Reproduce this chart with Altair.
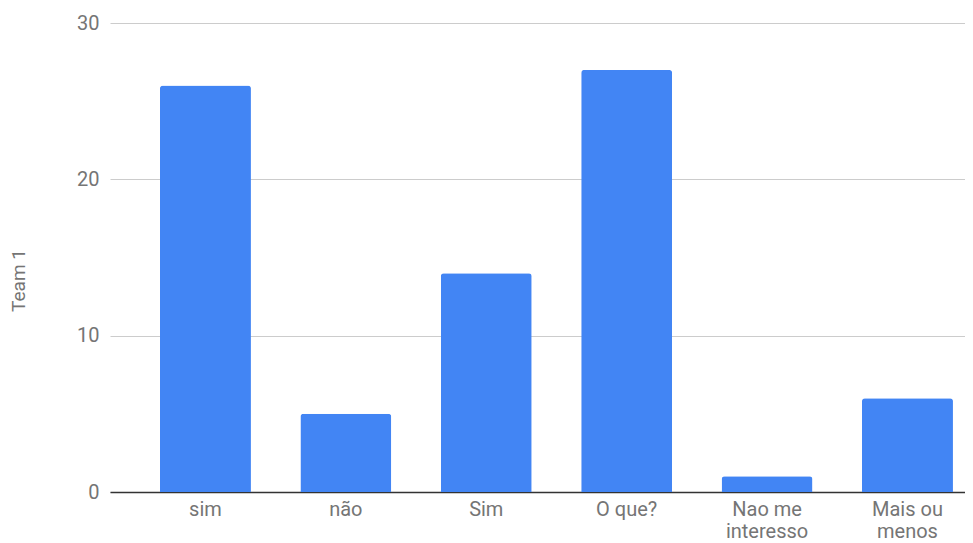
import altair as alt
import pandas as pd

categories = ["sim", "não", "Sim", "O que?", "Nao me interesso", "Mais ou menos"]
values = [26, 5, 14, 27, 1, 6]
label_lines = [["sim"], ["não"], ["Sim"], ["O que?"], ["Nao me", "interesso"], ["Mais ou", "menos"]]

df = pd.DataFrame({"cat": categories, "val": values})

expr_parts = []
for c, lines in zip(categories, label_lines):
    arr = "[" + ",".join("'" + l + "'" for l in lines) + "]"
    expr_parts.append(f"datum.label == '{c}' ? {arr} : ")
label_expr = "".join(expr_parts) + "datum.label"

chart = alt.Chart(df).mark_bar(
    color="#4285F4", cornerRadiusTopLeft=3, cornerRadiusTopRight=3
).encode(
    x=alt.X("cat:N", sort=categories, title=None,
            scale=alt.Scale(paddingInner=0.352, paddingOuter=0.2208, align=0.806),
            axis=alt.Axis(labelAngle=0, labelExpr=label_expr, labelFontSize=20,
                          labelColor="#757575", labelFont="Roboto", ticks=False,
                          labelPadding=7, domainColor="#333333", domainWidth=1.5,
                          labelLineHeight=22)),
    y=alt.Y("val:Q", title="Team 1",
            scale=alt.Scale(domain=[0, 30]),
            axis=alt.Axis(values=[0, 10, 20, 30], labelFontSize=20, labelColor="#757575",
                          labelFont="Roboto", ticks=False, domain=False, labelPadding=11,
                          gridColor="#cccccc", titleFont="Roboto", titleFontSize=19,
                          titleFontWeight="normal", titleColor="#757575",
                          titleX=-82, titleY=257, titleAngle=-90)),
).properties(
    width=855, height=469,
    padding={"left": 102, "top": 15, "right": 0, "bottom": 51},
    autosize=alt.AutoSizeParams(type="none"),
).configure_view(stroke=None)

chart.save("out.html", embed_options={"renderer": "svg", "actions": False})
